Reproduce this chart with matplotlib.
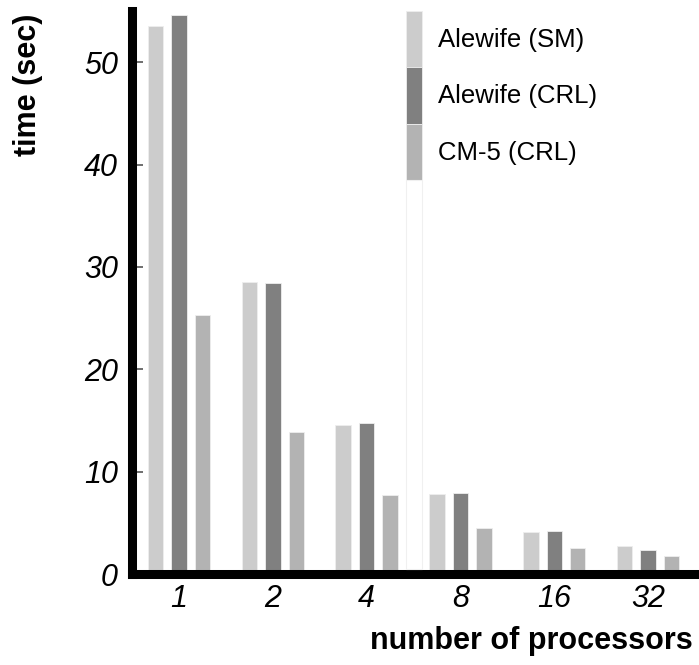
import matplotlib
matplotlib.use("Agg")
import matplotlib.pyplot as plt
from matplotlib.patches import Rectangle
import numpy as np

plt.rcParams['font.family'] = ['Liberation Sans', 'DejaVu Sans']

processors = ["1", "2", "4", "8", "16", "32"]
series_names = ["Alewife (SM)", "Alewife (CRL)", "CM-5 (CRL)"]
alewife_sm = [53.5, 28.5, 14.6, 7.8, 4.1, 2.7]
alewife_crl = [54.6, 28.4, 14.8, 7.9, 4.2, 2.3]
cm5_crl = [25.3, 13.9, 7.7, 4.5, 2.5, 1.75]
colors = ["#cccccc", "#808080", "#b3b3b3"]
y_ticks = [0, 10, 20, 30, 40, 50]

W, H = 699, 665
fig = plt.figure(figsize=(W / 100, H / 100), dpi=100)
ax = fig.add_axes([132 / W, (H - 574) / H, (W - 132) / W, (574 - 11) / H])

x = np.arange(len(processors))
offsets = [-0.25, 0.0, 0.25]
width = 0.165
for vals, off, c, name in zip([alewife_sm, alewife_crl, cm5_crl], offsets, colors, series_names):
    ax.bar(x + off, vals, width=width, color=c, edgecolor="#eeeeee", linewidth=0.6,
           label=name, zorder=2)

ax.set_xlim(-0.501, 5.543)
ax.set_ylim(0, 55)
ax.set_xticks(x)
ax.set_xticklabels(processors, fontsize=22, style="italic")
ax.set_yticks(y_ticks)
ax.set_yticklabels([str(v) for v in y_ticks], fontsize=22, style="italic")
ax.tick_params(axis="x", length=0, pad=7)
ax.tick_params(axis="y", direction="in", length=8, width=1.2, color="#555555", pad=10)

for s in ["top", "right"]:
    ax.spines[s].set_visible(False)
for s in ["left", "bottom"]:
    ax.spines[s].set_linewidth(6.5)
    ax.spines[s].set_capstyle("projecting")
    ax.spines[s].set_zorder(3)

leg = ax.legend(loc="upper left", bbox_to_anchor=(406 / W, 1 - 11 / H),
                bbox_transform=fig.transFigure, frameon=False, fontsize=18.5,
                handlelength=0.62, handleheight=3.0, labelspacing=0.0,
                handletextpad=0.62, borderpad=0, borderaxespad=0)

# faint continuation of legend column (stops above the bottom axis line)
fig.patches.append(Rectangle((406 / W, (H - 569) / H), 15.5 / W, (569 - 180) / H,
                             transform=fig.transFigure, facecolor="white",
                             edgecolor="#f0f0f0", linewidth=0.8, zorder=1))

fig.text(28 / W, 1 - 85 / H, "time (sec)", rotation=90, fontsize=22, fontweight="bold",
         ha="center", va="center")
fig.text(693 / W, 1 - 641 / H, "number of processors", fontsize=22, fontweight="bold",
         ha="right", va="center")

fig.savefig("out.png", dpi=100)
